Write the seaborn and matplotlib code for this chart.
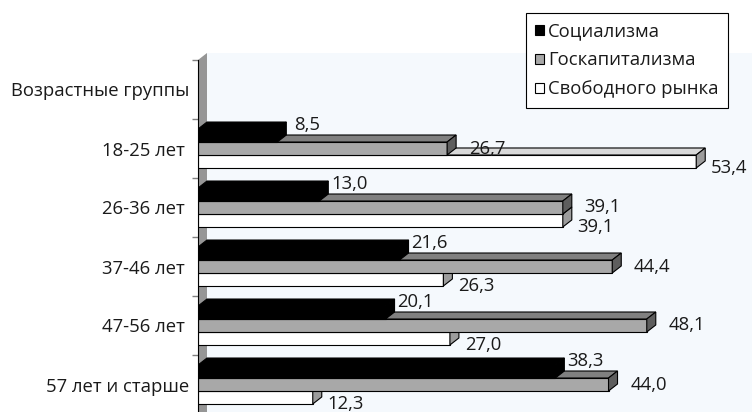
import matplotlib
matplotlib.use("Agg")
import matplotlib.pyplot as plt
import seaborn as sns
import pandas as pd
from matplotlib.patches import Polygon, Patch

# DATA
categories = ["Возрастные группы", "18-25 лет ", "26-36 лет ", "37-46 лет ", "47-56 лет ", "57 лет и старше"]
age_groups = categories[1:]
series_names = ["Социализма", "Госкапитализма", "Свободного рынка"]

socialism = [8.5, 13.0, 21.6, 20.1, 38.3]
state_capitalism = [26.7, 39.1, 44.4, 48.1, 44.0]
free_market = [53.4, 39.1, 26.3, 27.0, 12.3]

df = pd.DataFrame({
    "group": age_groups * 3,
    "series": [s for s in series_names for _ in age_groups],
    "value": socialism + state_capitalism + free_market,
})

# STYLE
front_colors = ["#000000", "#a8a8a8", "#ffffff"]
top_colors = ["#000000", "#808080", "#d9d9d9"]
side_colors = ["#000000", "#5e5e5e", "#9c9c9c"]
wall_color = "#969696"
back_color = "#f5f9fd"
label_offsets = [(30, 11), (40, 0), (33, -7)]
DX, DY = 9, 7
W, H = 752, 412
FS = 13.3

sns.set_theme(style="white")
plt.rcParams["font.family"] = ["Open Sans", "DejaVu Sans"]

fig = plt.figure(figsize=(W / 100, H / 100), dpi=100)
ax = fig.add_axes([198 / W, 1 - 414 / H, (W - 198) / W, 354 / H])

# BARS
sns.barplot(
    data=df,
    x="value",
    y="group",
    hue="series",
    order=categories,
    hue_order=series_names,
    palette=front_colors,
    saturation=1,
    width=0.66,
    edgecolor="black",
    linewidth=0.8,
    orient="h",
    legend=False,
    ax=ax,
)

ax.set_xlim(0, (W - 198) / 9.33)
ax.set_ylim(5.5, -0.5)
ax.set_facecolor(back_color)

to_px = ax.transData.transform
to_data = ax.transData.inverted().transform

# 3D FACES
for i, container in enumerate(ax.containers):
    z = 5 - i
    for bar in container:
        bar.set_zorder(z)
        x0, y0 = bar.get_x(), bar.get_y()
        x1, y1 = x0 + bar.get_width(), y0 + bar.get_height()
        (px0, py_top), (px1, py_bot) = to_px([(x0, y0), (x1, y1)])
        top = [(px0, py_top), (px1, py_top), (px1 + DX, py_top + DY), (px0 + DX, py_top + DY)]
        side = [(px1, py_top), (px1 + DX, py_top + DY), (px1 + DX, py_bot + DY), (px1, py_bot)]
        for pts, col in [(top, top_colors[i]), (side, side_colors[i])]:
            ax.add_patch(Polygon(to_data(pts), closed=True, facecolor=col,
                                 edgecolor="black", linewidth=0.8, zorder=z))

        # value label
        ax.annotate(
            f"{bar.get_width():.1f}".replace(".", ","),
            xy=(x1, (y0 + y1) / 2),
            xytext=label_offsets[i],
            textcoords="offset pixels",
            ha="center",
            va="center",
            fontsize=FS,
            color="#1a1a1a",
            zorder=10,
            annotation_clip=False,
        )

# SIDE WALL
(wx, wtop), (_, wbot) = to_px([(0, -0.5), (0, 5.5)])
right = to_px([(ax.get_xlim()[1], 0)])[0][0]
wall = [(wx, wtop), (wx + DX, wtop + DY), (wx + DX, wbot), (wx, wbot)]
ax.add_patch(Polygon(to_data(wall), closed=True, facecolor=wall_color,
                     edgecolor="none", zorder=1, clip_on=False))
strip = [(wx + DX, wtop), (wx + DX, wtop + DY), (right, wtop + DY), (right, wtop)]
ax.add_patch(Polygon(to_data(strip), closed=True, facecolor=back_color,
                     edgecolor="none", zorder=0.5, clip_on=False))

# AXES
ax.set_xticks([])
ax.set_xlabel("")
ax.set_ylabel("")
ax.set_yticks(range(len(categories)))
ax.set_yticklabels(categories, fontsize=FS, color="#1a1a1a")
ax.set_yticks([k - 0.5 for k in range(len(categories) + 1)], minor=True)
ax.tick_params(axis="y", which="major", length=0, pad=6)
ax.tick_params(axis="y", which="minor", length=4, width=1, color="#808080", left=True)

for s in ["top", "right", "bottom"]:
    ax.spines[s].set_visible(False)
ax.spines["left"].set_color("black")
ax.spines["left"].set_linewidth(0.8)
ax.spines["left"].set_zorder(6)

# LEGEND
handles = [Patch(facecolor=c, edgecolor="black", linewidth=0.8) for c in front_colors]
leg = fig.legend(
    handles,
    series_names,
    loc="upper right",
    bbox_to_anchor=(728 / W, 1 - 13 / H),
    frameon=True,
    fancybox=False,
    framealpha=1,
    edgecolor="black",
    fontsize=FS,
    labelcolor="#1a1a1a",
    handlelength=0.45,
    handleheight=0.45,
    handletextpad=0.25,
    labelspacing=0.6,
    borderpad=0.5,
    borderaxespad=0,
)
leg.get_frame().set_linewidth(0.8)

fig.savefig("out.png", dpi=100)
